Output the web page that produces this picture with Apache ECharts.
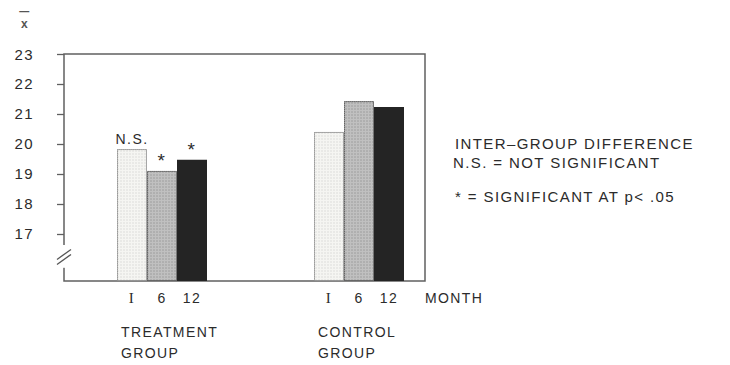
<!DOCTYPE html>
<html>
<head>
<meta charset="utf-8">
<script src="https://cdn.jsdelivr.net/npm/echarts@6/dist/echarts.min.js"></script>
<style>
html, body { margin: 0; padding: 0; background: #fff; }
#chart { width: 730px; height: 365px; }
#chart text { letter-spacing: 1.4px; }
</style>
</head>
<body>
<div id="chart"></div>
<script>
// ---- data ----
const groups = ['TREATMENT', 'CONTROL'];
const groupSuffix = 'GROUP';
const months = ['I', '6', '12'];
const valuesI = [19.83, 20.40];
const values6 = [19.10, 21.43];
const values12 = [19.47, 21.23];
const notesI = ['N.S.', ''];
const notes6 = ['*', ''];
const notes12 = ['*', ''];
const yTicks = [17, 18, 19, 20, 21, 22, 23];
const yMin = 15.43;
const yMax = 23;
const breakRange = [15.87, 16.63];
const legendLines = ['INTER\u2013GROUP DIFFERENCE', 'N.S. = NOT SIGNIFICANT', '* = SIGNIFICANT AT p< .05'];
const unitLabel = 'MONTH';
const yName = 'x';

const textColor = '#2b2b2b';
const FONT = '"Liberation Sans", Arial, sans-serif';
const SERIF = '"Liberation Serif", "DejaVu Serif", serif';

const chart = echarts.init(document.getElementById('chart'), null, { renderer: 'svg' });

function makeData(values, notes) {
  return values.map((v, i) => ({
    value: v,
    label: {
      show: !!notes[i],
      formatter: notes[i],
      fontSize: notes[i] === '*' ? 19 : 14,
      distance: notes[i] === '*' ? 1 : 3
    }
  }));
}

const styles = [
  { color: '#f5f5f2', borderColor: '#8a8a8a', borderWidth: 1, borderType: 'dotted',
    decal: { symbol: 'circle', symbolSize: 0.6, dashArrayX: [2, 1], dashArrayY: [2, 1], color: 'rgba(0,0,0,0.14)' } },
  { color: '#c0c0c0', borderColor: '#555', borderWidth: 1, borderType: 'dotted',
    decal: { symbol: 'circle', symbolSize: 0.7, dashArrayX: [2, 1], dashArrayY: [2, 1], color: 'rgba(70,70,70,0.35)' } },
  { color: '#242424', borderWidth: 0 }
];
const seriesData = [makeData(valuesI, notesI), makeData(values6, notes6), makeData(values12, notes12)];

const monthLine = months.map((m, i) => '{' + (i === 0 ? 'r' : 'm') + '|' + m + '}').join('');

const option = {
  animation: false,
  backgroundColor: '#fff',
  textStyle: { fontFamily: FONT, color: textColor },
  title: [
    {
      text: '{b|\u2014}\n{x|' + yName + '}',
      left: 25, top: 6, padding: 0, textAlign: 'center',
      textStyle: {
        rich: {
          b: { fontSize: 10, lineHeight: 10, color: '#555', align: 'center', fontFamily: FONT },
          x: { fontSize: 12, lineHeight: 15, color: '#555', align: 'center', fontFamily: FONT }
        }
      }
    },
    { text: legendLines[0], left: 455, top: 134, padding: 0, textStyle: { fontSize: 15, lineHeight: 18, fontWeight: 'normal', color: textColor, fontFamily: FONT } },
    { text: legendLines[1], left: 453, top: 153, padding: 0, textStyle: { fontSize: 15, lineHeight: 18, fontWeight: 'normal', color: textColor, fontFamily: FONT } },
    { text: legendLines[2], left: 455, top: 187, padding: 0, textStyle: { fontSize: 15, lineHeight: 18, fontWeight: 'normal', color: textColor, fontFamily: FONT } },
    { text: unitLabel, left: 425, top: 289, padding: 0, textStyle: { fontSize: 14, lineHeight: 18, fontWeight: 'normal', color: textColor, fontFamily: FONT } }
  ],
  grid: [
    { left: 64, top: 54, width: 361, height: 227, show: true, borderColor: '#606060', borderWidth: 1.5, backgroundColor: 'transparent', containLabel: false },
    { left: 63.5, top: 54, width: 394, height: 227, show: false, containLabel: false }
  ],
  xAxis: [
    { gridIndex: 0, type: 'value', min: 0, max: 1, show: false },
    {
      gridIndex: 1, type: 'category', data: groups,
      axisLine: { show: false }, axisTick: { show: false },
      axisLabel: {
        interval: 0, margin: 7,
        formatter: (v) => monthLine + '\n{s| }\n{g|' + v + '}\n{h|' + groupSuffix + '}',
        rich: {
          r: { width: 30, align: 'center', fontSize: 15, lineHeight: 20, color: textColor, fontFamily: SERIF },
          m: { width: 30, align: 'center', fontSize: 14, lineHeight: 20, color: textColor, fontFamily: FONT },
          s: { fontSize: 10, lineHeight: 14 },
          g: { width: 86, align: 'left', padding: [0, 0, 0, 4], fontSize: 14, lineHeight: 20, color: textColor, fontFamily: FONT },
          h: { width: 86, align: 'left', padding: [0, 0, 0, 4], fontSize: 14, lineHeight: 22, color: textColor, fontFamily: FONT }
        }
      }
    }
  ],
  yAxis: [
    {
      gridIndex: 0, type: 'value', min: yMin, max: yMax,
      axisLine: { show: false },
      splitLine: { show: false },
      axisTick: { show: true, inside: false, length: 7, customValues: yTicks, lineStyle: { color: '#606060', width: 1.3 } },
      axisLabel: { customValues: yTicks, margin: 30, fontSize: 15, color: textColor, fontFamily: FONT, formatter: v => String(v) }
    },
    { gridIndex: 1, type: 'value', min: yMin, max: yMax, startValue: yMin, show: false, splitLine: { show: false } }
  ],
  series: months.map((m, k) => ({
    name: m,
    type: 'bar',
    xAxisIndex: 1, yAxisIndex: 1,
    barWidth: 30, barGap: '0%',
    data: seriesData[k],
    itemStyle: styles[k],
    label: { position: 'top', distance: 3, color: textColor, fontFamily: FONT },
    emphasis: { disabled: true }
  }))
};

chart.setOption(option);

// axis-break decoration at the bottom of the y axis
const x0 = chart.convertToPixel({ xAxisIndex: 0 }, 0);
const yTop = chart.convertToPixel({ yAxisIndex: 0 }, breakRange[1]);
const yBot = chart.convertToPixel({ yAxisIndex: 0 }, breakRange[0]);
const yMid = (yTop + yBot) / 2;
chart.setOption({
  graphic: [
    { type: 'rect', shape: { x: x0 - 9, y: yTop, width: 12, height: yBot - yTop }, style: { fill: '#fff' }, z: 100 },
    { type: 'line', shape: { x1: x0 - 7, y1: yMid + 3, x2: x0 + 7, y2: yMid - 7 }, style: { stroke: '#555', lineWidth: 1.3 }, z: 101 },
    { type: 'line', shape: { x1: x0 - 7, y1: yMid + 8, x2: x0 + 7, y2: yMid - 2 }, style: { stroke: '#555', lineWidth: 1.3 }, z: 101 }
  ]
});
</script>
</body>
</html>
